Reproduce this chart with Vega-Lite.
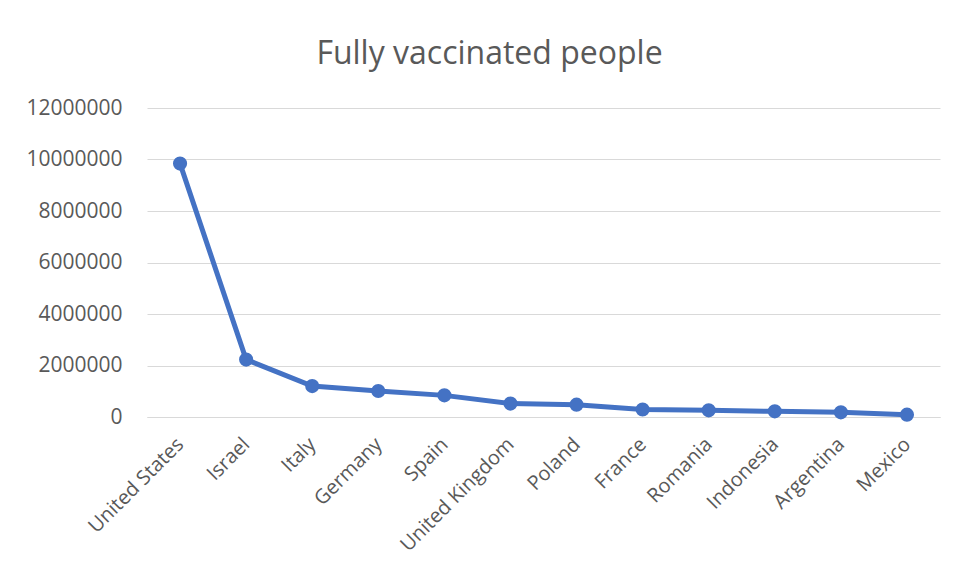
{
  "$schema": "https://vega.github.io/schema/vega-lite/v6.json",
  "autosize": {"type": "none"},
  "width": 793,
  "height": 309,
  "padding": {"left": 147, "top": 108, "right": 19, "bottom": 164},
  "background": "white",
  "title": {
    "text": "Fully vaccinated people",
    "font": "Open Sans",
    "fontSize": 32,
    "fontWeight": 400,
    "color": "#595959",
    "anchor": "middle",
    "frame": "group",
    "dx": -54,
    "offset": 26
  },
  "data": {
    "values": [
      {"country": "United States", "people": 9840000},
      {"country": "Israel", "people": 2230000},
      {"country": "Italy", "people": 1200000},
      {"country": "Germany", "people": 1010000},
      {"country": "Spain", "people": 840000},
      {"country": "United Kingdom", "people": 520000},
      {"country": "Poland", "people": 480000},
      {"country": "France", "people": 290000},
      {"country": "Romania", "people": 260000},
      {"country": "Indonesia", "people": 220000},
      {"country": "Argentina", "people": 180000},
      {"country": "Mexico", "people": 90000}
    ]
  },
  "config": {
    "view": {"stroke": null},
    "axis": {
      "labelFont": "Open Sans",
      "labelColor": "#595959",
      "gridColor": "#d9d9d9",
      "domainColor": "#d9d9d9",
      "ticks": false,
      "title": null
    }
  },
  "mark": {"type": "line", "color": "#4472C4", "strokeWidth": 5, "point": {"filled": true, "size": 200, "color": "#4472C4", "opacity": 1}},
  "encoding": {
    "x": {
      "field": "country",
      "type": "nominal",
      "sort": null,
      "scale": {"type": "point", "padding": 0.5},
      "axis": {"labelAngle": -45, "labelAlign": "right", "labelBaseline": "middle", "labelPadding": 24, "labelFontSize": 20, "domain": true, "grid": false, "labelOverlap": false}
    },
    "y": {
      "field": "people",
      "type": "quantitative",
      "scale": {"domain": [0, 12000000], "nice": false},
      "axis": {"values": [0, 2000000, 4000000, 6000000, 8000000, 10000000, 12000000], "format": "d", "domain": false, "labelPadding": 25, "labelFontSize": 21, "grid": true}
    }
  }
}
